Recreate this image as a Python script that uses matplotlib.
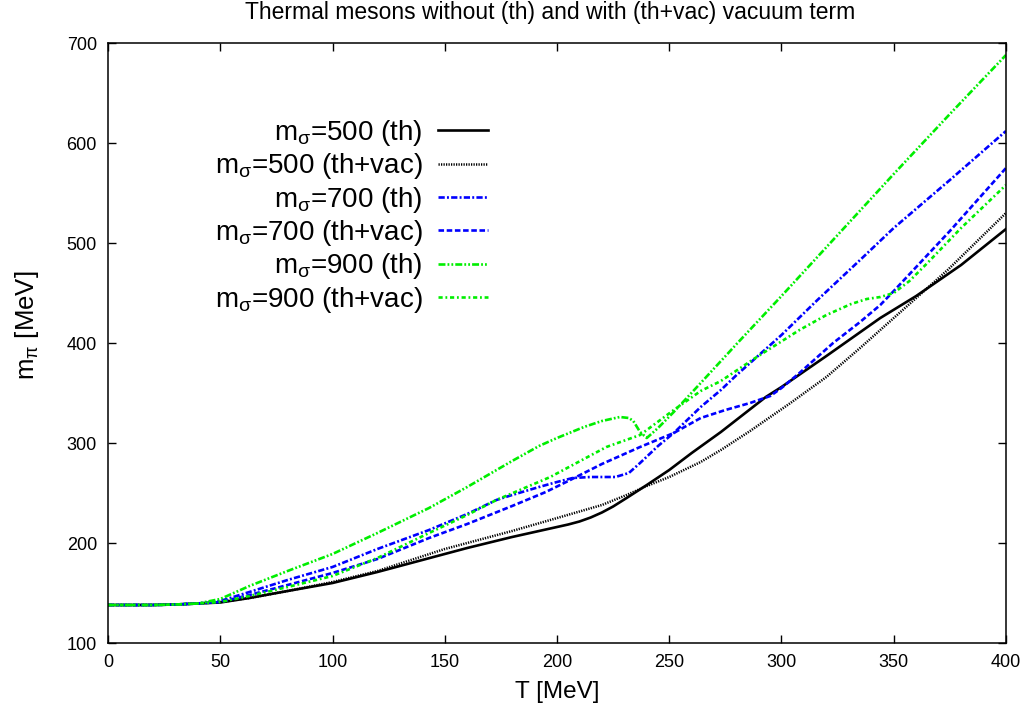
import matplotlib
matplotlib.use("Agg")
import matplotlib.pyplot as plt

plt.rcParams['font.family'] = ['Liberation Sans', 'DejaVu Sans']
plt.rcParams['mathtext.fontset'] = 'custom'
plt.rcParams['mathtext.rm'] = 'Liberation Sans'
plt.rcParams['mathtext.it'] = 'Liberation Sans:italic'
plt.rcParams['lines.scale_dashes'] = False

title = "Thermal mesons without (th) and with (th+vac) vacuum term"
xlabel = "T [MeV]"
ylabel = r"m$_\mathregular{π}$ [MeV]"

# m_sigma = 500 (th)
T_500_th = [0, 20, 30, 40, 50, 63, 80, 100, 120, 140, 160, 180, 192, 200, 205, 210, 215, 220, 225, 231, 240, 250, 260, 273,
            293, 300, 320, 344, 360, 380, 400]
m_500_th = [138, 138, 138.5, 139.5, 140.5, 145, 152, 160, 171, 183, 195, 206, 212, 216, 218.5, 221.5, 225.5, 230.5, 236.5, 245,
            258, 273, 290, 311, 346, 356, 387, 425, 447, 478, 514]
# m_sigma = 500 (th+vac)
T_500_vac = [0, 20, 30, 40, 50, 63, 80, 100, 120, 150, 180, 197, 220, 231, 240, 250, 264, 273, 286, 304,
             320, 335, 344, 360, 374, 400]
m_500_vac = [138, 138, 138.5, 139.5, 141, 145, 152, 161, 172, 194, 212, 223, 238, 248, 257, 266, 281, 293, 312, 340,
             366, 395, 413, 445, 473, 530]
# m_sigma = 700 (th)
T_700_th = [0, 20, 30, 40, 50, 63, 80, 100, 120, 143, 160, 173, 180, 192, 200, 207, 215, 226, 232, 237,
            245, 252, 264, 273, 280, 300, 316, 335, 350, 375, 400]
m_700_th = [138, 138, 138.5, 139.5, 142, 151, 163, 176, 194, 213, 229, 243, 248, 256, 261, 265, 266, 266, 270, 280,
            297, 310, 336, 353, 368, 408, 443, 483, 515, 563, 612]
# m_sigma = 700 (th+vac)
T_700_vac = [0, 20, 30, 40, 50, 63, 80, 100, 120, 143, 160, 180, 195, 205, 220, 237, 252, 264, 275, 286,
             295, 300, 308, 323, 335, 344, 350, 375, 400]
m_700_vac = [138, 138, 138.5, 139.5, 141, 148, 158, 170, 184, 205, 219, 237, 251, 262, 279, 296, 310, 325, 333, 340,
             347, 355, 370, 400, 421, 438, 452, 512, 575]
# m_sigma = 900 (th)
T_900_th = [0, 20, 30, 40, 50, 63, 80, 100, 120, 143, 160, 180, 192, 200, 212, 220, 228, 232, 234, 237,
            240, 245, 252, 264, 280, 300, 325, 350, 375, 400]
m_900_th = [138, 138, 138.5, 139.5, 144, 157, 172, 189, 210, 235, 256, 282, 297, 305, 316, 322, 326, 325, 322, 311,
            305, 315, 331, 360, 399, 447, 508, 569, 629, 688]
# m_sigma = 900 (th+vac)
T_900_vac = [0, 20, 30, 40, 50, 63, 80, 100, 120, 143, 160, 173, 197, 222, 237, 252, 264, 273, 289, 308,
             320, 331, 338, 344, 350, 357, 365, 380, 400]
m_900_vac = [138, 138, 138.5, 139.5, 141, 147, 156, 167, 185, 210, 228, 243, 266, 296, 308, 333, 352, 362, 386, 413,
             428, 439, 444, 446, 450, 462, 480, 515, 558]

labels = [r"m$_\mathregular{σ}$=500 (th)", r"m$_\mathregular{σ}$=500 (th+vac)",
          r"m$_\mathregular{σ}$=700 (th)", r"m$_\mathregular{σ}$=700 (th+vac)",
          r"m$_\mathregular{σ}$=900 (th)", r"m$_\mathregular{σ}$=900 (th+vac)"]

xticks = [0, 50, 100, 150, 200, 250, 300, 350, 400]
yticks = [100, 200, 300, 400, 500, 600, 700]

fig = plt.figure(figsize=(10.30, 7.16), dpi=100)
ax = fig.add_axes([108/1030, 1 - 643/716, (1006-108)/1030, 600/716])

green = '#00ee00'
blue = '#0000ff'
ax.plot(T_500_th, m_500_th, color='black', lw=1.9, ls='-', label=labels[0])
ax.plot(T_500_vac, m_500_vac, color='black', lw=1.8, ls=(0, (0.9, 0.9)), label=labels[1])
ax.plot(T_700_th, m_700_th, color=blue, lw=1.9, ls=(0, (4.5, 1.6, 1.4, 1.6)), label=labels[2])
ax.plot(T_700_vac, m_700_vac, color=blue, lw=1.9, ls=(0, (4.0, 1.9)), label=labels[3])
ax.plot(T_900_th, m_900_th, color=green, lw=1.9, ls=(0, (5.0, 1.5, 1.3, 1.5, 1.3, 1.5)), label=labels[4])
ax.plot(T_900_vac, m_900_vac, color=green, lw=1.9, ls=(0, (3.0, 2.0, 1.3, 2.0)), label=labels[5])

ax.set_xlim(0, 400)
ax.set_ylim(100, 700)
ax.set_xticks(xticks)
ax.set_yticks(yticks)
ax.tick_params(direction='in', length=6, width=1, top=True, right=True, labelsize=13, pad=8)
for s in ax.spines.values():
    s.set_linewidth(1.1)

ax.set_xlabel(xlabel, fontsize=17.5, labelpad=7)
ax.set_ylabel(ylabel, fontsize=18.5)
ax.yaxis.set_label_coords(-0.075, 0.53)
fig.text(550/1030, 1 - 12/716, title, ha='center', va='center', fontsize=16.5)

ax.legend(loc='upper right', bbox_to_anchor=(0.423, 0.875), frameon=False, markerfirst=False,
          fontsize=20, handlelength=1.8, handletextpad=0.55, labelspacing=0.12, borderpad=0, borderaxespad=0)

fig.savefig('out.png', dpi=100)
